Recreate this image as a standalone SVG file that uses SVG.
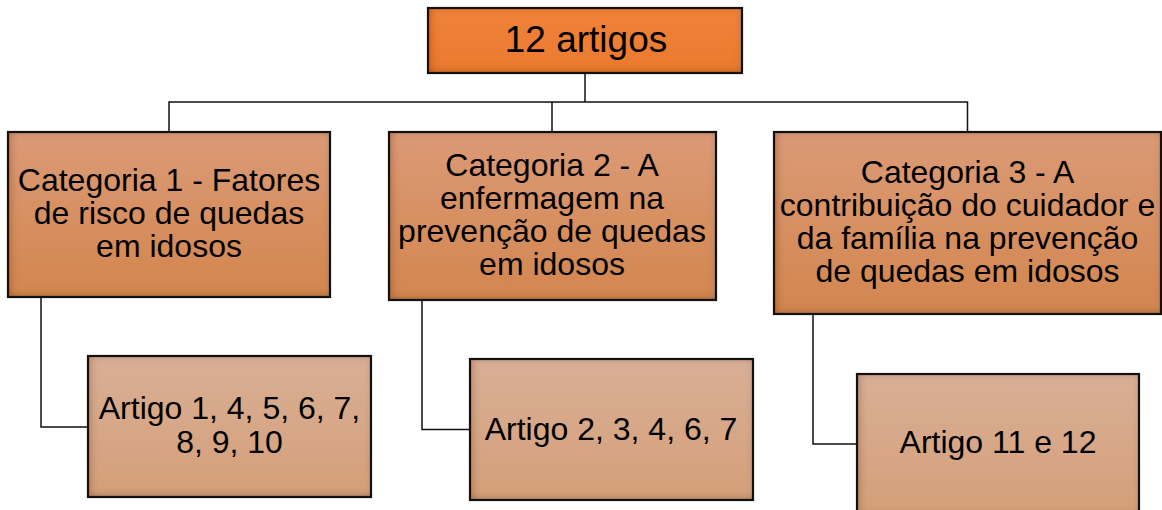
<svg xmlns="http://www.w3.org/2000/svg" width="1162" height="510" viewBox="0 0 1162 510">
<style>
  text{font-family:"Liberation Sans",Arial,sans-serif;font-size:32px;fill:#000;text-anchor:middle}
  .edge{fill:none;stroke:#111;stroke-width:1.5}
  .frame{fill:none;stroke:#111;stroke-width:2.2}
</style>
<defs>
  <linearGradient id="gTop" x1="0" y1="0" x2="0" y2="1">
    <stop offset="0" stop-color="#F0823A"/>
    <stop offset="1" stop-color="#EA7A2E"/>
  </linearGradient>
  <linearGradient id="gCat" x1="0" y1="0" x2="0" y2="1">
    <stop offset="0" stop-color="#DB9A76"/>
    <stop offset="1" stop-color="#D3864F"/>
  </linearGradient>
  <linearGradient id="gArt" x1="0" y1="0" x2="0" y2="1">
    <stop offset="0" stop-color="#D9AF96"/>
    <stop offset="1" stop-color="#D49F79"/>
  </linearGradient>
  <filter id="inset" x="-10%" y="-10%" width="120%" height="120%">
    <feFlood flood-color="#3a1a05" flood-opacity="0.55" result="f"/>
    <feComposite in="f" in2="SourceAlpha" operator="out" result="o"/>
    <feGaussianBlur in="o" stdDeviation="4" result="b"/>
    <feOffset in="b" dx="1.5" dy="-1.5" result="ob"/>
    <feComposite in="ob" in2="SourceAlpha" operator="in" result="sh"/>
    <feMerge><feMergeNode in="SourceGraphic"/><feMergeNode in="sh"/></feMerge>
  </filter>
</defs>

<g id="connectors">
  <polyline class="edge" points="585,73 585,102"/>
  <polyline class="edge" points="169,131 169,102 967.5,102 967.5,131"/>
  <polyline class="edge" points="552,102 552,131"/>
  <polyline class="edge" points="41,297 41,427 88,427"/>
  <polyline class="edge" points="422,300 422,429.5 470,429.5"/>
  <polyline class="edge" points="813,314 813,444 857,444"/>
</g>

<g id="n-top">
  <rect x="428" y="8" width="314" height="65" fill="url(#gTop)" filter="url(#inset)"/>
  <rect class="frame" x="428" y="8" width="314" height="65"/>
  <text x="586" y="52" style="font-size:37px">12 artigos</text>
</g>

<g id="n-cat1">
  <rect x="8" y="132" width="322" height="165" fill="url(#gCat)" filter="url(#inset)"/>
  <rect class="frame" x="8" y="132" width="322" height="165"/>
  <text x="169" y="191">Categoria 1 - Fatores</text>
  <text x="169" y="224">de risco de quedas</text>
  <text x="169" y="257">em idosos</text>
</g>

<g id="n-cat2">
  <rect x="389" y="132" width="327" height="168" fill="url(#gCat)" filter="url(#inset)"/>
  <rect class="frame" x="389" y="132" width="327" height="168"/>
  <text x="552" y="176">Categoria 2 - A</text>
  <text x="552" y="209">enfermagem na</text>
  <text x="552" y="242">prevenção de quedas</text>
  <text x="552" y="275">em idosos</text>
</g>

<g id="n-cat3">
  <rect x="774" y="132" width="387" height="182" fill="url(#gCat)" filter="url(#inset)"/>
  <rect class="frame" x="774" y="132" width="387" height="182"/>
  <text x="967.5" y="183">Categoria 3 - A</text>
  <text x="967.5" y="216">contribuição do cuidador e</text>
  <text x="967.5" y="249">da família na prevenção</text>
  <text x="967.5" y="282">de quedas em idosos</text>
</g>

<g id="n-art1">
  <rect x="88" y="356" width="283" height="141" fill="url(#gArt)" filter="url(#inset)"/>
  <rect class="frame" x="88" y="356" width="283" height="141"/>
  <text x="229.5" y="419">Artigo 1, 4, 5, 6, 7,</text>
  <text x="229.5" y="453">8, 9, 10</text>
</g>

<g id="n-art2">
  <rect x="470" y="359" width="283" height="141" fill="url(#gArt)" filter="url(#inset)"/>
  <rect class="frame" x="470" y="359" width="283" height="141"/>
  <text x="611" y="440">Artigo 2, 3, 4, 6, 7</text>
</g>

<g id="n-art3">
  <rect x="857" y="374" width="282" height="142" fill="url(#gArt)" filter="url(#inset)"/>
  <rect class="frame" x="857" y="374" width="282" height="142"/>
  <text x="998" y="453">Artigo 11 e 12</text>
</g>
</svg>
